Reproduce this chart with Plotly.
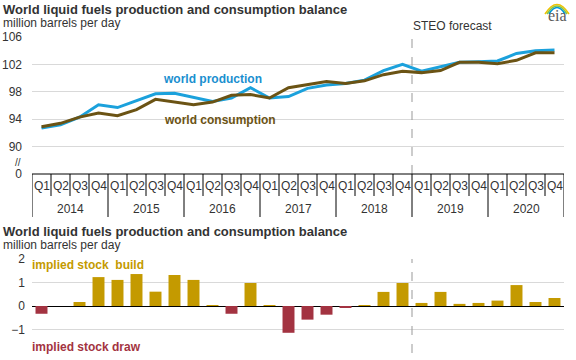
import plotly.graph_objects as go

# Data
quarters = ["Q1", "Q2", "Q3", "Q4"] * 7
years = ["2014", "2015", "2016", "2017", "2018", "2019", "2020"]

production = [92.7, 93.2, 94.3, 96.1, 95.7, 96.7, 97.7, 97.8,
              97.2, 96.6, 97.1, 98.6, 97.1, 97.3, 98.5, 99.0,
              99.2, 99.7, 101.1, 102.0, 101.0, 101.6, 102.3, 102.4,
              102.5, 103.6, 104.0, 104.1]
consumption = [92.9, 93.4, 94.3, 94.9, 94.5, 95.4, 96.9, 96.5,
               96.1, 96.5, 97.5, 97.6, 97.1, 98.6, 99.0, 99.5,
               99.2, 99.6, 100.5, 101.0, 100.8, 101.1, 102.3, 102.3,
               102.1, 102.6, 103.7, 103.7]
balance = [-0.33, 0.0, 0.17, 1.23, 1.11, 1.36, 0.61, 1.32,
           1.11, 0.04, -0.33, 0.98, 0.04, -1.14, -0.58, -0.37,
           -0.07, 0.04, 0.60, 0.98, 0.13, 0.60, 0.09, 0.13,
           0.23, 0.89, 0.17, 0.34]
top_ticks = [86, 90, 94, 98, 102, 106]
top_labels = ["0", "90", "94", "98", "102", "106"]
bot_ticks = [-2, -1, 0, 1, 2]

# Colors
BLUE, BROWN, GOLD, RED = "#1ba1dc", "#6b5314", "#c49a00", "#a33341"
TXT, GRID, FONT = "#333333", "#d9d9d9", "Liberation Sans"

def py(y):
    return 1 - y / 360

x = list(range(len(quarters)))
fig = go.Figure()
fig.add_trace(go.Scatter(x=x, y=production, mode="lines", line=dict(color=BLUE, width=3),
                         xaxis="x", yaxis="y"))
fig.add_trace(go.Scatter(x=x, y=consumption, mode="lines", line=dict(color=BROWN, width=3),
                         xaxis="x", yaxis="y"))
fig.add_trace(go.Bar(x=x, y=balance, width=0.63,
                     marker=dict(color=[GOLD if v >= 0 else RED for v in balance], line_width=0),
                     xaxis="x2", yaxis="y2"))

xr = [-0.5, len(quarters) - 0.5]
axfont = dict(family=FONT, size=12, color=TXT)
fig.update_layout(
    width=576, height=360, margin=dict(l=0, r=0, t=0, b=0),
    paper_bgcolor="white", plot_bgcolor="white", showlegend=False,
    font=dict(family=FONT, color=TXT),
    xaxis=dict(domain=[32 / 576, 564 / 576], range=xr, showticklabels=False, showgrid=False,
               zeroline=False, showline=False, automargin=False),
    yaxis=dict(domain=[py(174), py(37)], range=[86, 106], tickvals=top_ticks, ticktext=top_labels,
               gridcolor=GRID, zeroline=False, showline=False, tickfont=axfont, ticklabelstandoff=9,
               automargin=False),
    xaxis2=dict(domain=[32 / 576, 564 / 576], range=xr, showticklabels=False, showgrid=False,
                zeroline=False, showline=False, anchor="y2", automargin=False),
    yaxis2=dict(domain=[py(353), py(259)], range=[-2, 2], tickvals=bot_ticks, gridcolor=GRID,
                zeroline=True, zerolinecolor="black", zerolinewidth=1, showline=False,
                tickfont=axfont, ticklabelstandoff=6, anchor="x2", automargin=False),
)

shapes = []
# forecast divider
shapes.append(dict(type="line", xref="x", yref="paper", x0=19.5, x1=19.5, y0=py(174), y1=py(35),
                   line=dict(color="#999999", width=1, dash="dash")))
shapes.append(dict(type="line", xref="x2", yref="paper", x0=19.5, x1=19.5, y0=py(353), y1=py(259),
                   line=dict(color="#999999", width=1, dash="dash")))
# table under top chart
shapes.append(dict(type="line", xref="x", yref="paper", x0=xr[0], x1=xr[1], y0=py(174), y1=py(174),
                   line=dict(color="black", width=1)))
for i in range(len(quarters) + 1):
    bottom = 217 if i % 4 == 0 else 196
    shapes.append(dict(type="line", xref="x", yref="paper", x0=i - 0.5, x1=i - 0.5,
                       y0=py(bottom), y1=py(174), line=dict(color="black", width=1)))

# eia logo arcs
for k, c in enumerate(["#f2c200", "#8cc63f", "#0096d7"]):
    r = 12 - 2 * k
    shapes.append(dict(type="path", xref="paper", yref="paper",
                       path=f"M {(557 - r) / 576} {py(14)} Q {557 / 576} {py(14 - 1.6 * r)} {(557 + r) / 576} {py(14)}",
                       line=dict(color=c, width=1.5)))

ann = []
for i, q in enumerate(quarters):
    ann.append(dict(x=i, y=py(186), xref="x", yref="paper", text=q, showarrow=False,
                    font=dict(family=FONT, size=12, color=TXT)))
for j, yr in enumerate(years):
    ann.append(dict(x=4 * j + 1.5, y=py(209), xref="x", yref="paper", text=yr, showarrow=False,
                    font=dict(family=FONT, size=12, color=TXT)))

def label(text, x, y, size=12, color=TXT, bold=False, xanchor="left"):
    ann.append(dict(x=x / 576, y=py(y), xref="paper", yref="paper", showarrow=False,
                    text=f"<b>{text}</b>" if bold else text, xanchor=xanchor, yanchor="middle",
                    font=dict(family=FONT, size=size, color=color)))

label("World liquid fuels production and consumption balance", 1, 9, 13, TXT, True)
label("million barrels per day", 1, 23, 12)
label("World liquid fuels production and consumption balance", 1, 231, 13, TXT, True)
label("million barrels per day", 1, 245, 12)
label("STEO forecast", 411, 26, 12)
label("world production", 161, 79, 12, "#1a8fcf", True)
label("world consumption", 162, 120, 12, BROWN, True)
label("implied stock  build", 30, 265, 12, GOLD, True)
label("implied stock draw", 30, 347, 12, RED, True)
label("//", 13, 163, 10)
ann.append(dict(x=569 / 576, y=py(16), xref="paper", yref="paper", showarrow=False, text="eia",
                xanchor="right", yanchor="middle",
                font=dict(family="Liberation Serif", size=16, color="#5a5a5a")))

fig.update_layout(shapes=shapes, annotations=ann)
fig.write_html("out.html", config={"displayModeBar": False},
               post_script="document.body.style.margin='0';")
